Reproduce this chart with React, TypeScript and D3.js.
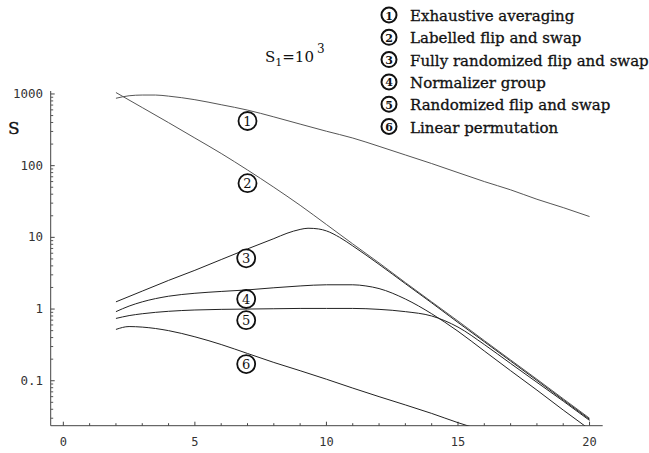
import React from "react";
import * as d3 from "d3";

const W = 649;
const H = 453;

// x positions (dimension) and S values for each curve
const xs1 = [2, 2.5, 3, 3.5, 4, 5, 6, 7, 8, 9, 10, 11, 12, 13, 14, 15, 16, 17, 18, 19, 20];
const exhaustive = [871, 944, 966, 966, 933, 832, 708, 596, 479, 380, 302, 243, 186, 141, 107, 80, 60, 46, 34, 26, 19.5];

const xs2 = [2, 3, 4, 5, 6, 7, 8, 9, 10, 11, 12, 13, 14, 15, 16, 17, 18, 19, 20];
const labelled = [1047, 646, 398, 243, 148, 87, 50, 28, 15.1, 8.1, 4.4, 2.34, 1.26, 0.68, 0.363, 0.195, 0.105, 0.056, 0.030];

const xs3 = [2, 3, 4, 5, 6, 7, 8, 8.5, 9, 9.3, 9.7, 10, 10.5, 11, 12, 13, 14, 15, 16, 17, 18, 19, 20];
const fullyRandomized = [1.26, 1.78, 2.51, 3.47, 4.9, 6.9, 9.6, 11.4, 12.9, 13.4, 13.1, 12.3, 10.0, 7.6, 4.2, 2.26, 1.22, 0.65, 0.35, 0.188, 0.101, 0.054, 0.029];

const xs4 = [2, 2.5, 3, 4, 5, 6, 7, 8, 9, 10, 11, 11.5, 12, 13, 14, 15, 16, 17, 18, 19, 20];
const normalizer = [0.92, 1.1, 1.26, 1.51, 1.66, 1.76, 1.85, 1.98, 2.1, 2.18, 2.18, 2.1, 1.93, 1.38, 0.86, 0.49, 0.26, 0.138, 0.074, 0.039, 0.021];

const xs5 = [2, 2.5, 3, 4, 5, 6, 7, 8, 9, 10, 11, 12, 13, 14, 15, 16, 17, 18, 19, 20];
const randomized = [0.74, 0.81, 0.86, 0.93, 0.97, 0.99, 1.0, 1.01, 1.02, 1.02, 1.02, 0.99, 0.92, 0.8, 0.56, 0.32, 0.174, 0.095, 0.052, 0.028];

const xs6 = [2, 2.5, 3, 4, 5, 6, 7, 8, 9, 10, 11, 12, 13, 14, 15, 16];
const linearPerm = [0.52, 0.57, 0.56, 0.5, 0.41, 0.32, 0.24, 0.18, 0.138, 0.105, 0.079, 0.06, 0.046, 0.035, 0.026, 0.02];

const seriesNames = [
  "Exhaustive averaging",
  "Labelled flip and swap",
  "Fully randomized flip and swap",
  "Normalizer group",
  "Randomized flip and swap",
  "Linear permutation",
];
const seriesX = [xs1, xs2, xs3, xs4, xs5, xs6];
const seriesY = [exhaustive, labelled, fullyRandomized, normalizer, randomized, linearPerm];

// circled-number annotations inside the plot (data coords)
const annotX = [7, 7, 6.95, 6.95, 6.95, 6.95];
const annotY = [420, 57, 5.1, 1.38, 0.7, 0.171];

const xTicks = [0, 5, 10, 15, 20];
const xMinor = d3.range(0, 21, 1);
const yTicks = [0.1, 1, 10, 100, 1000];
const yTickLabels = ["0.1", "1", "10", "100", "1000"];

export default function App() {
  const x = d3.scaleLinear().domain([-0.48, 20.5]).range([50.7, 602.7]);
  const y = d3.scaleLog().domain([0.0236, 1100]).range([425.7, 91]);
  const [x0, x1] = x.range();
  const [yb, yt] = y.range();

  const yMinor: number[] = [];
  [0.01, 0.1, 1, 10, 100].forEach((d) => {
    for (let k = 2; k <= 9; k++) {
      const v = d * k;
      if (v >= y.domain()[0] && v <= y.domain()[1]) yMinor.push(v);
    }
  });

  const line = d3
    .line<[number, number]>()
    .x((d) => x(d[0]))
    .y((d) => y(d[1]))
    .curve(d3.curveMonotoneX);

  const mono = "DejaVu Sans Mono";
  const serif = "DejaVu Serif";

  return (
    <svg width={W} height={H} style={{ position: "absolute", left: 0, top: 0, background: "#fff" }}>
      <defs>
        <clipPath id="plot">
          <rect x={x0} y={yt - 10} width={x1 - x0} height={yb - yt + 10} />
        </clipPath>
      </defs>

      {/* axes */}
      <line x1={x0} x2={x0} y1={yt} y2={yb} stroke="#444" strokeWidth={1} />
      <line x1={x0} x2={x1} y1={yb} y2={yb} stroke="#444" strokeWidth={1} />
      {xMinor.map((t) => (
        <line key={"xm" + t} x1={x(t)} x2={x(t)} y1={yb} y2={yb - (t % 5 === 0 ? 4 : 2.5)} stroke="#444" />
      ))}
      {xTicks.map((t) => (
        <text key={"xt" + t} x={x(t)} y={446} textAnchor="middle" fontFamily={mono} fontSize={12} fill="#333">
          {t}
        </text>
      ))}
      {yTicks.map((t) => (
        <line key={"yt" + t} x1={x0} x2={x0 + 4} y1={y(t)} y2={y(t)} stroke="#444" />
      ))}
      {yMinor.map((t, i) => (
        <line key={"ym" + i} x1={x0} x2={x0 + 2.5} y1={y(t)} y2={y(t)} stroke="#555" />
      ))}
      {yTicks.map((t, i) => (
        <text key={"yl" + t} x={43} y={y(t) + 4} textAnchor="end" fontFamily={mono} fontSize={12.5} fill="#333">
          {yTickLabels[i]}
        </text>
      ))}
      <text x={8} y={134} fontFamily={serif} fontSize={17} fill="#111" stroke="#111" strokeWidth={0.3}>S</text>

      {/* title */}
      <text x={265} y={62} fontFamily={serif} fontSize={15} fill="#111">
        S<tspan dy={4} fontSize={11}>1</tspan>
        <tspan dy={-4}>=10</tspan>
        <tspan dx={3} dy={-9} fontSize={12}>3</tspan>
      </text>

      {/* curves */}
      <g clipPath="url(#plot)">
        {seriesY.map((vals, i) => (
          <path
            key={"s" + i}
            d={line(vals.map((v, j) => [seriesX[i][j], v] as [number, number])) || ""}
            fill="none"
            stroke={i < 2 ? "#555" : "#222"}
            strokeWidth={1}
          />
        ))}
      </g>

      {/* in-plot circled labels */}
      {annotX.map((ax, i) => (
        <g key={"a" + i} transform={`translate(${x(ax)},${y(annotY[i])})`}>
          <circle r={9} fill="#fff" stroke="#111" strokeWidth={1.8} />
          <text y={5} textAnchor="middle" fontFamily={serif} fontSize={13} fill="#111">
            {i + 1}
          </text>
        </g>
      ))}

      {/* legend */}
      {seriesNames.map((name, i) => (
        <g key={"l" + i} transform={`translate(0,${15 + i * 22.3})`}>
          <circle cx={389} cy={0} r={7.5} fill="#fff" stroke="#111" strokeWidth={2} />
          <text x={389} y={4.5} textAnchor="middle" fontFamily={serif} fontSize={11} fontWeight="bold" fill="#111">
            {i + 1}
          </text>
          <text x={410} y={6} fontFamily={serif} fontSize={15} fill="#111" stroke="#111" strokeWidth={0.3}>
            {name}
          </text>
        </g>
      ))}
    </svg>
  );
}
